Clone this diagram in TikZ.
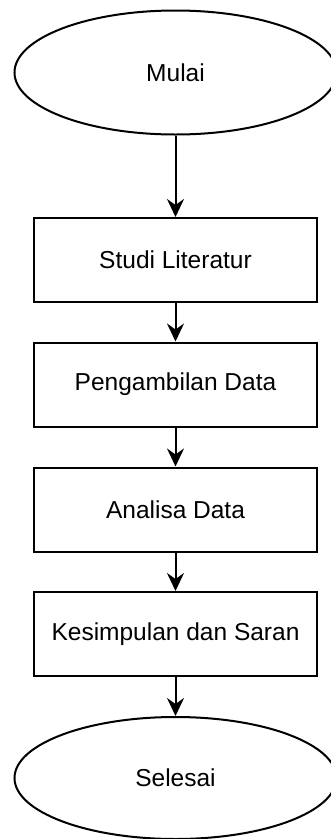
\documentclass[tikz,border=0pt]{standalone}
\usepackage{fontspec}
\setmainfont{Liberation Sans}
\usetikzlibrary{shapes.geometric,arrows.meta}

\begin{document}
\begin{tikzpicture}[x=1pt,y=-1pt,
    font=\fontsize{24.5}{29}\selectfont,
    terminal/.style={draw,line width=2pt,ellipse,minimum width=322pt,minimum height=124pt,inner sep=0pt},
    process/.style={draw,line width=2pt,rectangle,minimum width=283pt,minimum height=84pt,inner sep=0pt},
    flow/.style={line width=2pt,-{Stealth[length=18pt,width=17pt,inset=6pt]}}]
                \clip (0,0) rectangle (331,839);

                \node[terminal] (mulai) at (175.5,72.5) {Mulai};
                \node[process] (studi) at (175.5,260) {Studi Literatur};
                \node[process] (pengambilan) at (175.5,384.5) {Pengambilan Data};
                \node[process] (analisa) at (175.5,509.5) {Analisa Data};
                \node[process] (kesimpulan) at (175.5,634) {Kesimpulan dan Saran};
                \node[terminal,minimum height=122pt] (selesai) at (175.5,778) {Selesai};

                \draw[flow] (mulai.south) -- (studi.north);
                \draw[flow] (studi.south) -- (pengambilan.north);
                \draw[flow] (pengambilan.south) -- (analisa.north);
                \draw[flow] (analisa.south) -- (kesimpulan.north);
                \draw[flow] (kesimpulan.south) -- (selesai.north);
            \end{tikzpicture}
\end{document}
